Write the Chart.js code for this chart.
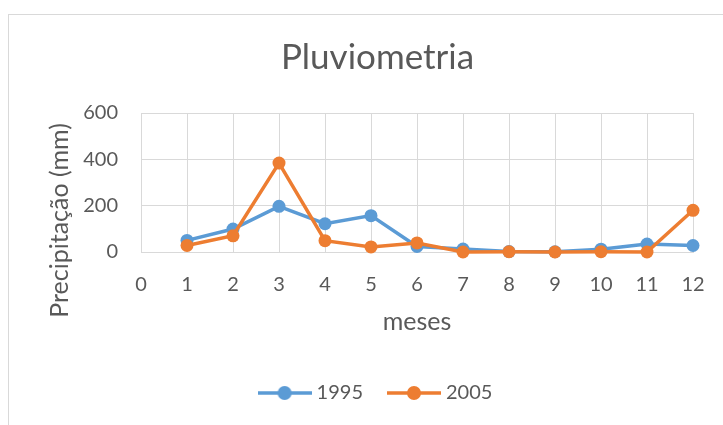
<!DOCTYPE html>
<html>
<head>
<meta charset="utf-8">
<script src="https://cdn.jsdelivr.net/npm/chart.js@4.4.0/dist/chart.umd.min.js"></script>
<style>
  html, body { margin: 0; padding: 0; background: #ffffff; }
  #wrap { width: 723px; height: 425px; position: relative; }
</style>
</head>
<body>
<div id="wrap"><canvas id="c" width="723" height="425"></canvas></div>
<script>
const months = [1, 2, 3, 4, 5, 6, 7, 8, 9, 10, 11, 12];
const rain1995 = [50, 99, 197, 122, 157, 24, 13, 2, 1, 12, 34, 28];
const rain2005 = [28, 70, 384, 49, 22, 39, 0, 1, 0, 1, 0, 180];
const seriesNames = ['1995', '2005'];
const xTicks = [0, 1, 2, 3, 4, 5, 6, 7, 8, 9, 10, 11, 12];
const yTicks = [0, 200, 400, 600];
const chartTitle = 'Pluviometria';
const xTitle = 'meses';
const yTitle = 'Precipitação (mm)';

const BLUE = '#5B9BD5';
const ORANGE = '#ED7D31';
const TEXT = '#595959';
const GRID = '#D9D9D9';
const FONT = 'Lato, "Open Sans", sans-serif';

function legendIcon(color) {
  const cv = document.createElement('canvas');
  cv.width = 54; cv.height = 16;
  const g = cv.getContext('2d');
  g.strokeStyle = color; g.lineWidth = 3.5;
  g.beginPath(); g.moveTo(0, 8); g.lineTo(54, 8); g.stroke();
  g.fillStyle = color;
  g.beginPath(); g.arc(27, 8, 7, 0, Math.PI * 2); g.fill();
  return cv;
}

const pts = (arr) => months.map((m, i) => ({x: m, y: arr[i]}));

const borderPlugin = {
  id: 'outerBorder',
  beforeDraw(chart) {
    const ctx = chart.ctx;
    ctx.save();
    ctx.strokeStyle = '#D9D9D9';
    ctx.lineWidth = 1;
    ctx.strokeRect(8.5, 14.5, 730, 430);
    ctx.restore();
  }
};

// Y axis title, centred lower than the plot area as in the original (Excel-style)
const yTitlePlugin = {
  id: 'yTitle',
  afterDraw(chart) {
    const ctx = chart.ctx;
    const ys = chart.scales.y;
    ctx.save();
    ctx.translate(ys.left + 28, (ys.top + ys.bottom) / 2 + 38);
    ctx.rotate(-Math.PI / 2);
    ctx.font = '25px ' + FONT;
    ctx.fillStyle = TEXT;
    ctx.textAlign = 'center';
    ctx.textBaseline = 'middle';
    ctx.fillText(yTitle, 0, 0);
    ctx.restore();
  }
};

new Chart(document.getElementById('c'), {
  type: 'line',
  data: {
    datasets: [
      {
        label: seriesNames[0],
        data: pts(rain1995),
        borderColor: BLUE, backgroundColor: BLUE,
        borderWidth: 3.5, pointRadius: 6.5, pointBorderWidth: 0,
        pointBackgroundColor: BLUE, tension: 0, order: 1,
        pointStyle: 'circle', clip: false
      },
      {
        label: seriesNames[1],
        data: pts(rain2005),
        borderColor: ORANGE, backgroundColor: ORANGE,
        borderWidth: 3.5, pointRadius: 6.5, pointBorderWidth: 0,
        pointBackgroundColor: ORANGE, tension: 0, order: 0,
        pointStyle: 'circle', clip: false
      }
    ]
  },
  options: {
    responsive: false,
    animation: false,
    devicePixelRatio: 1,
    layout: { padding: { top: 14, left: 32, right: 0, bottom: 12 } },
    plugins: {
      tooltip: { enabled: false },
      title: {
        display: true,
        text: chartTitle,
        color: TEXT,
        font: { family: FONT, size: 35, weight: 'normal' },
        padding: { top: 23, bottom: 34 }
      },
      legend: {
        display: true,
        position: 'bottom',
        sort: (a, b) => a.datasetIndex - b.datasetIndex,
        labels: {
          color: TEXT,
          font: { family: FONT, size: 20 },
          usePointStyle: true,
          pointStyleWidth: 44,
          padding: 29,
          generateLabels(chart) {
            return chart.data.datasets.map((ds, i) => ({
              text: ds.label,
              fontColor: TEXT,
              pointStyle: legendIcon(ds.borderColor),
              datasetIndex: i,
              hidden: false,
              lineWidth: 0,
              strokeStyle: ds.borderColor,
              fillStyle: ds.borderColor
            }));
          }
        }
      }
    },
    scales: {
      x: {
        type: 'linear',
        min: 0, max: 12,
        afterBuildTicks: (s) => { s.ticks = xTicks.map(v => ({value: v})); },
        afterFit: (s) => { s.height = 102; },
        ticks: { color: TEXT, font: { family: FONT, size: 20 }, padding: 10 },
        grid: { color: GRID, lineWidth: 1, drawTicks: true, tickLength: 11, tickColor: 'rgba(0,0,0,0)' },
        border: { color: GRID, width: 1 },
        title: {
          display: true, text: xTitle, color: TEXT,
          font: { family: FONT, size: 25 },
          padding: { top: 0, bottom: 17 }
        }
      },
      y: {
        type: 'linear',
        position: 'left',
        min: 0, max: 600,
        afterBuildTicks: (s) => { s.ticks = yTicks.map(v => ({value: v})); },
        afterFit: (s) => { s.width = 109; },
        ticks: { color: TEXT, font: { family: FONT, size: 20 }, padding: 23 },
        grid: { color: GRID, lineWidth: 1, drawTicks: false },
        border: { color: GRID, width: 1 },
        title: { display: false }
      },
      yRight: {
        type: 'linear',
        position: 'right',
        display: true,
        afterFit: (s) => { s.width = 30; },
        ticks: { display: false },
        grid: { display: false, drawTicks: false },
        border: { display: false },
        title: { display: false }
      }
    }
  },
  plugins: [borderPlugin, yTitlePlugin]
});
</script>
</body>
</html>
